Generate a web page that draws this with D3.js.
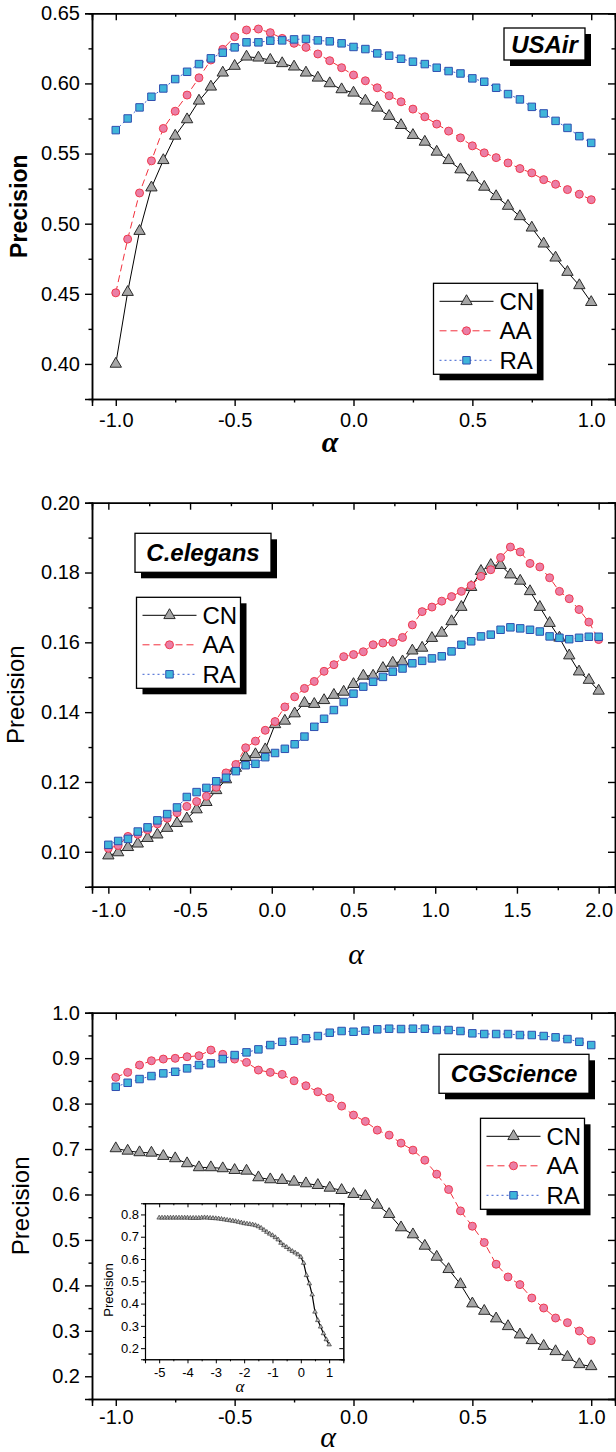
<!DOCTYPE html>
<html>
<head>
<meta charset="utf-8">
<script src="https://cdn.jsdelivr.net/npm/d3@7"></script>
<style>
body { margin: 0; background: #fff; }
svg { display: block; font-family: "Liberation Sans", Arial, sans-serif; }
</style>
</head>
<body>
<svg id="chart" width="616" height="1452"></svg>
<script>
"use strict"

// alpha grids (sampling steps of the original runs)
let alphaUS = d3.range(41).map(i => +(-1 + 0.05 * i).toFixed(2))
let alphaCE = d3.range(51).map(i => +(-1 + 0.06 * i).toFixed(2))
let alphaCG = d3.range(41).map(i => +(-1 + 0.05 * i).toFixed(2))
let alphaInset = d3.range(61).map(i => +(-5 + 0.1 * i).toFixed(1))

// USAir
let usCN = [0.400,0.4512,0.4947,0.5257,0.5452,0.5626,0.5743,0.5876,0.5976,0.6076,
    0.6124,0.6190,0.6183,0.6167,0.6143,0.6119,0.6076,0.6040,0.6000,0.5957,
    0.5933,0.5876,0.5826,0.5767,0.5702,0.5631,0.5583,0.5512,0.5452,0.5386,
    0.5329,0.5262,0.5195,0.5126,0.5052,0.4971,0.4857,0.4757,0.4655,0.4560,0.4440]
let usAA = [0.4507,0.4890,0.5219,0.5448,0.5679,0.5802,0.5917,0.6040,0.6167,0.6243,
    0.6333,0.6381,0.6388,0.6362,0.6321,0.6286,0.6257,0.6210,0.6162,0.6112,
    0.6060,0.6019,0.5969,0.5912,0.5869,0.5817,0.5762,0.5710,0.5660,0.5612,
    0.5555,0.5505,0.5471,0.5433,0.5393,0.5362,0.5314,0.5281,0.5243,0.5210,0.5171]
let usRA = [0.5667,0.5750,0.5829,0.5905,0.5964,0.6031,0.6083,0.6138,0.6179,0.6219,
    0.6257,0.6293,0.6293,0.6305,0.6307,0.6314,0.6317,0.6307,0.6300,0.6286,
    0.6260,0.6245,0.6214,0.6198,0.6176,0.6155,0.6138,0.6112,0.6088,0.6071,
    0.6036,0.6012,0.5969,0.5924,0.5886,0.5833,0.5786,0.5733,0.5683,0.5624,0.5576]

// C.elegans
let ceCN = [0.0989,0.0998,0.1013,0.1023,0.1039,0.1049,0.1068,0.1082,0.1095,0.1121,
    0.1142,0.1176,0.1207,0.1240,0.1271,0.1279,0.1293,0.1365,0.1375,0.1396,
    0.1426,0.1423,0.1434,0.1449,0.1458,0.1480,0.1504,0.1504,0.1526,0.1541,
    0.1545,0.1576,0.1584,0.1612,0.1627,0.1660,0.1701,0.1758,0.1804,0.1821,
    0.1821,0.1794,0.1776,0.1746,0.1701,0.1655,0.1613,0.1562,0.1516,0.1492,0.1461]
let ceAA = [0.1010,0.1018,0.1044,0.1050,0.1063,0.1080,0.1096,0.1112,0.1130,0.1144,
    0.1159,0.1185,0.1226,0.1250,0.1298,0.1317,0.1348,0.1373,0.1415,0.1444,
    0.1468,0.1488,0.1517,0.1536,0.1559,0.1565,0.1573,0.1593,0.1598,0.1600,
    0.1614,0.1650,0.1688,0.1701,0.1718,0.1731,0.1746,0.1763,0.1789,0.1808,
    0.1843,0.1873,0.1859,0.1826,0.1816,0.1785,0.1746,0.1725,0.1694,0.1658,0.1608]
let ceRA = [0.1020,0.1031,0.1037,0.1058,0.1070,0.1090,0.1108,0.1127,0.1157,0.1171,
    0.1183,0.1202,0.1212,0.1231,0.1248,0.1252,0.1271,0.1283,0.1295,0.1308,
    0.1330,0.1358,0.1381,0.1406,0.1429,0.1453,0.1473,0.1487,0.1501,0.1516,
    0.1525,0.1540,0.1547,0.1554,0.1560,0.1574,0.1593,0.1603,0.1617,0.1622,
    0.1636,0.1643,0.1640,0.1636,0.1631,0.1617,0.1613,0.1609,0.1613,0.1616,0.1616]

// CGScience
let cgCN = [0.7013,0.6960,0.6925,0.6916,0.6844,0.6793,0.6683,0.6595,0.6595,0.6573,
    0.6535,0.6520,0.6374,0.6330,0.6315,0.6278,0.6242,0.6205,0.6145,0.6095,
    0.6007,0.5963,0.5770,0.5566,0.5273,0.5119,0.4868,0.4626,0.4355,0.4024,
    0.3599,0.3436,0.3269,0.3099,0.2916,0.2791,0.2665,0.2548,0.2423,0.2262,0.2218]
let cgAA = [0.8577,0.8687,0.8848,0.8943,0.8980,0.8996,0.9031,0.9053,0.9178,0.9084,
    0.8980,0.8907,0.8738,0.8687,0.8643,0.8502,0.8392,0.8260,0.8128,0.7945,
    0.7747,0.7608,0.7416,0.7306,0.7130,0.6976,0.6755,0.6447,0.6110,0.5639,
    0.5302,0.4943,0.4465,0.4185,0.4017,0.3722,0.3502,0.3282,0.3180,0.2996,0.2784]
let cgRA = [0.8370,0.8458,0.8540,0.8606,0.8665,0.8700,0.8775,0.8848,0.8885,0.8980,
    0.9068,0.9127,0.9193,0.9288,0.9360,0.9383,0.9436,0.9487,0.9560,0.9597,
    0.9581,0.9604,0.9634,0.9648,0.9641,0.9648,0.9648,0.9619,0.9619,0.9597,
    0.9546,0.9531,0.9531,0.9531,0.9509,0.9509,0.9487,0.9458,0.9420,0.9360,0.9288]

// inset: CN on CGScience over a wider alpha range
let insetCN = [0.785,0.785,0.785,0.785,0.785,0.785,0.785,0.785,0.785,0.785,
    0.785,0.784,0.784,0.784,0.784,0.785,0.786,0.785,0.784,0.783,0.782,
    0.781,0.779,0.777,0.775,0.773,0.771,0.769,0.766,0.763,0.760,
    0.758,0.756,0.754,0.751,0.746,0.739,0.730,0.721,0.713,0.706,
    0.697,0.687,0.672,0.661,0.653,0.643,0.635,0.628,0.620,0.609,
    0.582,0.527,0.490,0.440,0.363,0.325,0.296,0.266,0.239,0.216]

let seriesNames = ["CN", "AA", "RA"]

let styles = {
    CN: {line: "#000", dash: null, shape: d3.symbolTriangle, size: 56,
	 fill: "#a6a6a6", stroke: "#2b2b2b"},
    AA: {line: "#f2303c", dash: "7,4", shape: d3.symbolCircle, size: 50,
	 fill: "#ea7fa6", stroke: "#f03a4e"},
    RA: {line: "#3a5fd0", dash: "2,3", shape: d3.symbolSquare, size: 56,
	 fill: "#3fb5da", stroke: "#2f4fb0"}
}

let svg = d3.select("#chart")

function axisStyle(sel) {
    sel.select(".domain").attr("stroke", "#000").attr("stroke-width", 1.5)
    sel.selectAll(".tick line").attr("stroke", "#000").attr("stroke-width", 1.4)
}

function minorOnly(values, majors) {
    return values.filter(v => !majors.some(m => Math.abs(m - v) < 1e-9))
}

/**
* draws the four framed axes with mirrored (inward) ticks on top and right
*/
function drawFrame(g, x, y, p) {
    let fmtX = d => d.toFixed(p.xDigits)
    let fmtY = d => d.toFixed(p.yDigits)
    let xMinor = minorOnly(p.xMinor, p.xMajor)
    let yMinor = minorOnly(p.yMinor, p.yMajor)

    let parts = [
	[d3.axisBottom(x).tickValues(p.xMajor).tickFormat(fmtX).tickSize(p.tick)
	    .tickPadding(p.xPad), "translate(0," + p.bottom + ")"],
	[d3.axisBottom(x).tickValues(xMinor).tickFormat("").tickSize(p.tick / 2),
	    "translate(0," + p.bottom + ")"],
	[d3.axisTop(x).tickValues(p.xMajor).tickFormat("").tickSize(-p.tick),
	    "translate(0," + p.top + ")"],
	[d3.axisTop(x).tickValues(xMinor).tickFormat("").tickSize(-p.tick / 2),
	    "translate(0," + p.top + ")"],
	[d3.axisLeft(y).tickValues(p.yMajor).tickFormat(fmtY).tickSize(p.tick)
	    .tickPadding(p.yPad), "translate(" + p.left + ",0)"],
	[d3.axisLeft(y).tickValues(yMinor).tickFormat("").tickSize(p.tick / 2),
	    "translate(" + p.left + ",0)"],
	[d3.axisRight(y).tickValues(p.yMajor).tickFormat("").tickSize(-p.tick),
	    "translate(" + p.right + ",0)"],
	[d3.axisRight(y).tickValues(yMinor).tickFormat("").tickSize(-p.tick / 2),
	    "translate(" + p.right + ",0)"]
    ]
    parts.forEach(([ax, tr]) => {
	g.append("g")
	    .attr("transform", tr)
	    .call(ax)
	    .attr("font-size", p.font)
	    .attr("font-family", "Liberation Sans, Arial, sans-serif")
	    .call(axisStyle)
    })
    g.selectAll(".tick text").attr("fill", "#000")
}

function drawSeries(g, x, y, alpha, values, st) {
    let pts = alpha.map((a, i) => [a, values[i]])
    g.append("path")
	.datum(pts)
	.attr("fill", "none")
	.attr("stroke", st.line)
	.attr("stroke-width", 1)
	.attr("stroke-dasharray", st.dash)
	.attr("d", d3.line().x(d => x(d[0])).y(d => y(d[1])))
    g.append("g").selectAll("path")
	.data(pts)
	.join("path")
	.attr("d", d3.symbol(st.shape, st.size))
	.attr("transform", d => "translate(" + x(d[0]) + "," + y(d[1]) + ")")
	.attr("fill", st.fill)
	.attr("stroke", st.stroke)
	.attr("stroke-width", 1)
}

function shadowBox(g, x0, y0, w, h) {
    g.append("rect").attr("x", x0 + 6).attr("y", y0 + 6)
	.attr("width", w).attr("height", h).attr("fill", "#000")
    g.append("rect").attr("x", x0).attr("y", y0)
	.attr("width", w).attr("height", h)
	.attr("fill", "#fff").attr("stroke", "#000").attr("stroke-width", 1.3)
}

function drawLegend(g, lx, ly) {
    shadowBox(g, lx, ly, 104, 91)
    seriesNames.forEach((name, i) => {
	let st = styles[name]
	let cy = ly + 18 + i * 29.5
	g.append("line")
	    .attr("x1", lx + 6).attr("x2", lx + 60)
	    .attr("y1", cy).attr("y2", cy)
	    .attr("stroke", st.line).attr("stroke-width", 1)
	    .attr("stroke-dasharray", st.dash)
	g.append("path")
	    .attr("d", d3.symbol(st.shape, st.size))
	    .attr("transform", "translate(" + (lx + 33) + "," + cy + ")")
	    .attr("fill", st.fill).attr("stroke", st.stroke)
	g.append("text")
	    .attr("x", lx + 66).attr("y", cy + 8.5)
	    .attr("font-size", 24)
	    .text(name)
    })
}

function drawTag(g, t) {
    shadowBox(g, t.x, t.y, t.w, t.h)
    g.append("text")
	.attr("x", t.x + t.w / 2).attr("y", t.base)
	.attr("text-anchor", "middle")
	.attr("font-size", 24)
	.attr("font-weight", "bold")
	.attr("font-style", "italic")
	.text(t.text)
}

function drawPanel(p) {
    let g = svg.append("g")
    let x = d3.scaleLinear().domain(p.xDomain).range([p.left, p.right])
    let y = d3.scaleLinear().domain(p.yDomain).range([p.bottom, p.top])

    seriesNames.forEach(name => {
	drawSeries(g, x, y, p.alpha, p.data[name], styles[name])
    })
    drawFrame(g, x, y, p)

    g.append("text")
	.attr("transform", "translate(" + p.yLabelX + "," + (p.top + p.bottom) / 2 + ") rotate(-90)")
	.attr("text-anchor", "middle")
	.attr("font-size", p.yLabelSize)
	.attr("font-weight", p.bold ? "bold" : "normal")
	.text("Precision")
    g.append("text")
	.attr("x", p.alphaX).attr("y", p.alphaY)
	.attr("text-anchor", "middle")
	.attr("font-family", "Liberation Serif, Times New Roman, serif")
	.attr("font-style", "italic")
	.attr("font-weight", p.bold ? "bold" : "normal")
	.attr("font-size", 30)
	.text("α")

    drawTag(g, p.tag)
    drawLegend(g, p.legend[0], p.legend[1])
    return {g: g, x: x, y: y}
}

let common = {left: 92, right: 615, tick: 7, font: 20, yPad: 5}

drawPanel(Object.assign({}, common, {
    top: 13.3, bottom: 399, xDomain: [-1.1, 1.1], yDomain: [0.375, 0.65],
    xMajor: [-1, -0.5, 0, 0.5, 1], xMinor: d3.range(-1, 1.01, 0.25),
    yMajor: [0.40, 0.45, 0.50, 0.55, 0.60, 0.65], yMinor: d3.range(0.40, 0.651, 0.025),
    xDigits: 1, yDigits: 2, xPad: 7,
    alpha: alphaUS, data: {CN: usCN, AA: usAA, RA: usRA},
    yLabelX: 27, yLabelSize: 23, bold: true, alphaX: 330, alphaY: 452,
    tag: {x: 504, y: 28, w: 81, h: 32, base: 53, text: "USAir"},
    legend: [433.5, 283.3]
}))

drawPanel(Object.assign({}, common, {
    top: 502.7, bottom: 886.7, xDomain: [-1.1, 2.1], yDomain: [0.09, 0.20],
    xMajor: [-1, -0.5, 0, 0.5, 1, 1.5, 2], xMinor: d3.range(-1, 2.01, 0.25),
    yMajor: [0.10, 0.12, 0.14, 0.16, 0.18, 0.20], yMinor: d3.range(0.10, 0.201, 0.01),
    xDigits: 1, yDigits: 2, xPad: 9,
    alpha: alphaCE, data: {CN: ceCN, AA: ceAA, RA: ceRA},
    yLabelX: 24, yLabelSize: 24, bold: false, alphaX: 356, alphaY: 964,
    tag: {x: 135, y: 533.3, w: 136, h: 39, base: 561, text: "C.elegans"},
    legend: [136.5, 597.3]
}))

drawPanel(Object.assign({}, common, {
    top: 1012.7, bottom: 1399, xDomain: [-1.1, 1.1], yDomain: [0.15, 1.0],
    xMajor: [-1, -0.5, 0, 0.5, 1], xMinor: d3.range(-1, 1.01, 0.25),
    yMajor: [0.2, 0.3, 0.4, 0.5, 0.6, 0.7, 0.8, 0.9, 1.0], yMinor: d3.range(0.2, 1.001, 0.05),
    xDigits: 1, yDigits: 1, xPad: 4,
    alpha: alphaCG, data: {CN: cgCN, AA: cgAA, RA: cgRA},
    yLabelX: 29, yLabelSize: 24, bold: false, alphaX: 328, alphaY: 1447,
    tag: {x: 439, y: 1054.3, w: 150, h: 39, base: 1082, text: "CGScience"},
    legend: [480.5, 1118.3]
}))

// inset inside the CGScience panel
let inset = {left: 145, right: 343.3, top: 1203.3, bottom: 1359.3}
let ig = svg.append("g")
ig.append("rect")
    .attr("x", inset.left).attr("y", inset.top)
    .attr("width", inset.right - inset.left).attr("height", inset.bottom - inset.top)
    .attr("fill", "#fff")
let ix = d3.scaleLinear().domain([-5.5, 1.5]).range([inset.left, inset.right])
let iy = d3.scaleLinear().domain([0.15, 0.85]).range([inset.bottom, inset.top])
let insetPts = alphaInset.map((a, i) => [a, insetCN[i]])
ig.append("path")
    .datum(insetPts)
    .attr("fill", "none").attr("stroke", "#000").attr("stroke-width", 1.2)
    .attr("d", d3.line().x(d => ix(d[0])).y(d => iy(d[1])))
ig.append("g").selectAll("path")
    .data(insetPts)
    .join("path")
    .attr("d", d3.symbol(d3.symbolTriangle, 9))
    .attr("transform", d => "translate(" + ix(d[0]) + "," + iy(d[1]) + ")")
    .attr("fill", "#b8b8b8").attr("stroke", "#222").attr("stroke-width", 0.6)

drawFrame(ig, ix, iy, Object.assign({}, inset, {
    tick: 4, font: 13, xPad: 4, yPad: 2, xDigits: 0, yDigits: 1,
    xMajor: [-5, -4, -3, -2, -1, 0, 1], xMinor: d3.range(-5.5, 1.51, 0.5),
    yMajor: [0.2, 0.3, 0.4, 0.5, 0.6, 0.7, 0.8], yMinor: d3.range(0.15, 0.851, 0.05)
}))
ig.selectAll(".domain").attr("stroke-width", 1.1)
ig.selectAll(".tick line").attr("stroke-width", 1)
ig.append("text")
    .attr("transform", "translate(113,1290) rotate(-90)")
    .attr("text-anchor", "middle").attr("font-size", 13)
    .text("Precision")
ig.append("text")
    .attr("x", 240).attr("y", 1392)
    .attr("text-anchor", "middle")
    .attr("font-family", "Liberation Serif, Times New Roman, serif")
    .attr("font-style", "italic").attr("font-size", 17)
    .text("α")
</script>
</body>
</html>
